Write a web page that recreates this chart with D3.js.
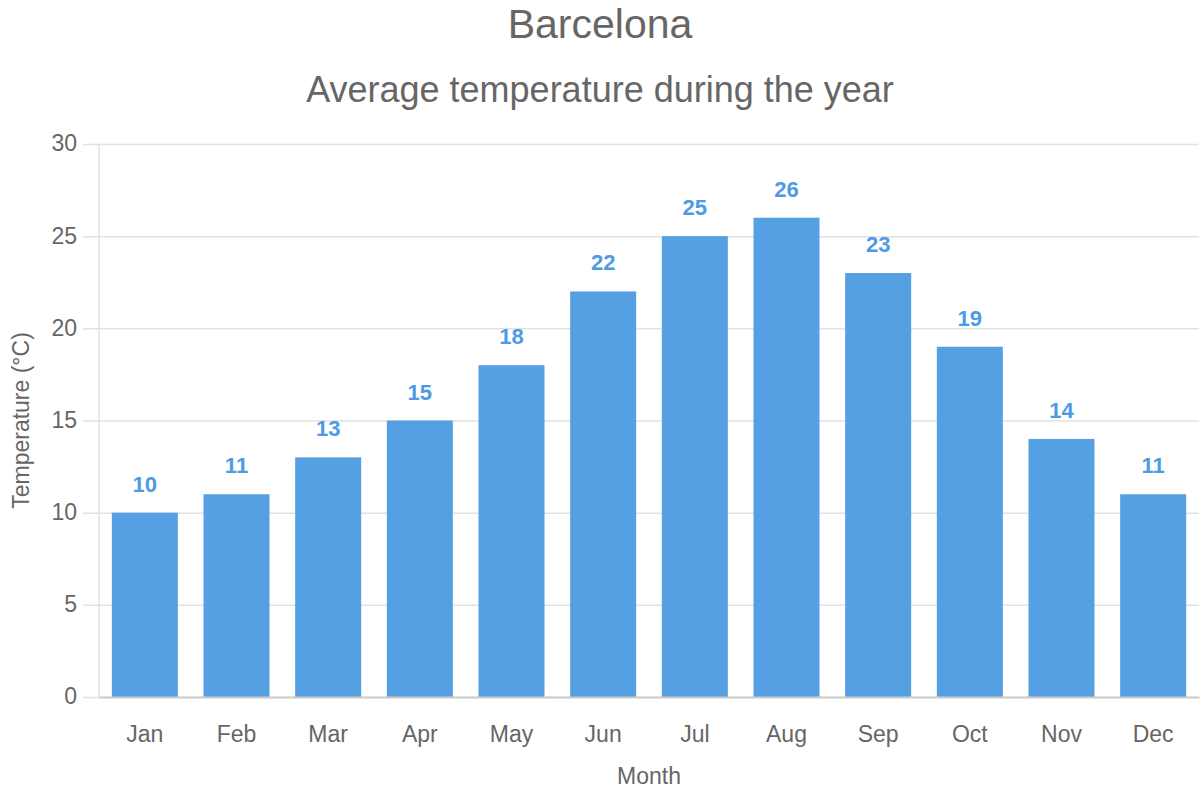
<!DOCTYPE html>
<html>
<head>
<meta charset="utf-8">
<script src="https://cdn.jsdelivr.net/npm/d3@7"></script>
<style>
  body { margin: 0; background: #fff; }
  text { font-family: "Liberation Sans", Arial, sans-serif; fill: #666; }
</style>
</head>
<body>
<div id="target_div"></div>
<script>
var months = ['Jan', 'Feb', 'Mar', 'Apr', 'May', 'Jun', 'Jul', 'Aug', 'Sep', 'Oct', 'Nov', 'Dec'];
var temps = [10, 11, 13, 15, 18, 22, 25, 26, 23, 19, 14, 11];
var y_ticks = [0, 5, 10, 15, 20, 25, 30];

var W = 1200, H = 800;
var margin = {top: 144, left: 99, right: 1, bottom: 103};
var canvas = {
    w: W - (margin.left + margin.right),
    h: H - (margin.top + margin.bottom)
};

var bar_color = '#55a0e3';
var label_color = '#4c9be4';
var grid_color = '#e2e2e2';

var svg = d3.select('#target_div')
  .append('svg')
  .attr('width', W)
  .attr('height', H);

// titles
svg.append('text')
  .attr('x', W / 2).attr('y', 38)
  .attr('text-anchor', 'middle')
  .style('font-size', '41px')
  .text('Barcelona');

svg.append('text')
  .attr('x', W / 2).attr('y', 102)
  .attr('text-anchor', 'middle')
  .style('font-size', '36px')
  .text('Average temperature during the year');

var g = svg.append('g')
  .attr('transform', `translate(${margin.left}, ${margin.top})`);

var mapX = d3.scaleBand()
  .domain(months)
  .range([0, canvas.w])
  .paddingInner(0.28)
  .paddingOuter(0.14);

var mapY = d3.scaleLinear()
  .domain([0, 30])
  .range([canvas.h, 0]);

// gridlines + y ticks
var yAxis = d3.axisLeft(mapY)
  .tickValues(y_ticks)
  .tickSize(16)
  .tickPadding(6);
var ya = g.append('g').call(yAxis);
ya.select('.domain').remove();
ya.selectAll('.tick line')
  .attr('x2', canvas.w)
  .attr('x1', -16)
  .attr('stroke', grid_color)
  .attr('stroke-width', 1.5);
ya.selectAll('.tick text')
  .style('font-size', '23px')
  .attr('fill', '#666')
  .attr('dy', '0.3em');

// y axis line
g.append('line')
  .attr('x1', 0).attr('x2', 0)
  .attr('y1', 0).attr('y2', canvas.h)
  .attr('stroke', grid_color)
  .attr('stroke-width', 1.5);

// bars
g.selectAll('rect.bar')
  .data(temps)
  .enter()
  .append('rect')
  .attr('class', 'bar')
  .attr('x', (d, i) => mapX(months[i]))
  .attr('y', d => mapY(d))
  .attr('width', mapX.bandwidth())
  .attr('height', d => canvas.h - mapY(d))
  .attr('fill', bar_color);

// value labels
g.selectAll('text.val')
  .data(temps)
  .enter()
  .append('text')
  .attr('class', 'val')
  .attr('x', (d, i) => mapX(months[i]) + mapX.bandwidth() / 2)
  .attr('y', d => mapY(d) - 21)
  .attr('text-anchor', 'middle')
  .style('font-size', '22px')
  .style('font-weight', 'bold')
  .style('fill', label_color)
  .text(d => d);

// x axis
var xAxis = d3.axisBottom(mapX).tickSize(0).tickPadding(29);
var xa = g.append('g')
  .attr('transform', `translate(0, ${canvas.h})`)
  .call(xAxis);
xa.select('.domain')
  .attr('stroke', '#ccc')
  .attr('stroke-width', 2);
xa.selectAll('.tick text')
  .style('font-size', '23px')
  .attr('fill', '#666');

// axis titles
svg.append('text')
  .attr('x', margin.left + canvas.w / 2)
  .attr('y', 784)
  .attr('text-anchor', 'middle')
  .style('font-size', '23px')
  .text('Month');

svg.append('text')
  .attr('transform', `translate(29, ${margin.top + canvas.h / 2}) rotate(-90)`)
  .attr('text-anchor', 'middle')
  .style('font-size', '23px')
  .text('Temperature (°C)');
</script>
</body>
</html>
